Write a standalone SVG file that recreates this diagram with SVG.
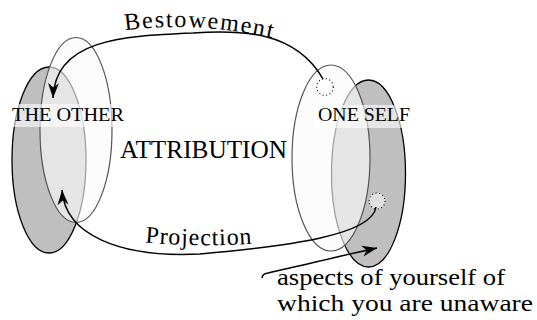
<svg xmlns="http://www.w3.org/2000/svg" width="537" height="320" viewBox="0 0 537 320">
<style>
.back{fill:#bfbfbf;stroke:#000;stroke-width:1.3}
.front{fill:#fafafa;fill-opacity:0.64;stroke:#555;stroke-width:1.2}
.box{fill:#fff;fill-opacity:0.6;stroke:none}
.conn{fill:none;stroke:#000;stroke-width:1.5}
.dot{fill:#fff;fill-opacity:0.5;stroke:#000;stroke-width:1.1;stroke-dasharray:1 2.6}
text{font-family:"Liberation Serif",serif;fill:#000}
</style>
<defs>
<marker id="arr" markerUnits="userSpaceOnUse" markerWidth="17" markerHeight="13" refX="15" refY="6.5" orient="auto">
<path d="M15,6.5 L0,1 L4.5,6.5 L0,12 z" fill="#000"/>
</marker>
<path id="pBest" d="M120 31 Q197 20 280 40"/>
<path id="pProj" d="M140 242 Q200 248 262 243"/>
</defs>
<rect width="537" height="320" fill="#fff"/>
<g id="other">
<ellipse class="back" cx="49" cy="160" rx="37" ry="93"/>
<ellipse class="front" cx="76" cy="130" rx="36" ry="92.5"/>
<rect class="box" x="8" y="104" width="122" height="23"/>
<text x="12" y="121" font-size="19.5" textLength="112" lengthAdjust="spacingAndGlyphs">THE OTHER</text>
</g>
<g id="self">
<ellipse class="back" cx="368.5" cy="173.5" rx="37" ry="93.5"/>
<ellipse class="front" cx="331" cy="158" rx="39" ry="93"/>
<rect class="box" x="314" y="105" width="104" height="23"/>
<text x="318" y="121" font-size="19.5" textLength="92" lengthAdjust="spacingAndGlyphs">ONE SELF</text>
<circle id="spot1" class="dot" cx="325" cy="87" r="8.3"/>
<circle id="spot2" class="dot" cx="377" cy="201" r="8"/>
</g>
<g id="attribution">
<text x="120" y="158" font-size="25" textLength="167" lengthAdjust="spacingAndGlyphs">ATTRIBUTION</text>
</g>
<g id="connectors">
<path class="conn" d="M323 79 C295 30 240 30 193 33 C120 36 55 40 53 98" marker-end="url(#arr)"/>
<path class="conn" d="M376 207 C372 235 290 246 200 254 C120 258 65 235 62 190" marker-end="url(#arr)"/>
<path class="conn" d="M262 278 Q262 274 268 273 C300 266 340 256 377 248" marker-end="url(#arr)"/>
<text font-size="24"><textPath href="#pBest" startOffset="5" textLength="148" lengthAdjust="spacing">Bestowement</textPath></text>
<text font-size="24"><textPath href="#pProj" startOffset="5" textLength="107" lengthAdjust="spacing">Projection</textPath></text>
</g>
<g id="note">
<text x="277" y="285" font-size="24" textLength="228" lengthAdjust="spacingAndGlyphs">aspects of yourself of</text>
<text x="277" y="311" font-size="24" textLength="256" lengthAdjust="spacingAndGlyphs">which you are unaware</text>
</g>
</svg>
